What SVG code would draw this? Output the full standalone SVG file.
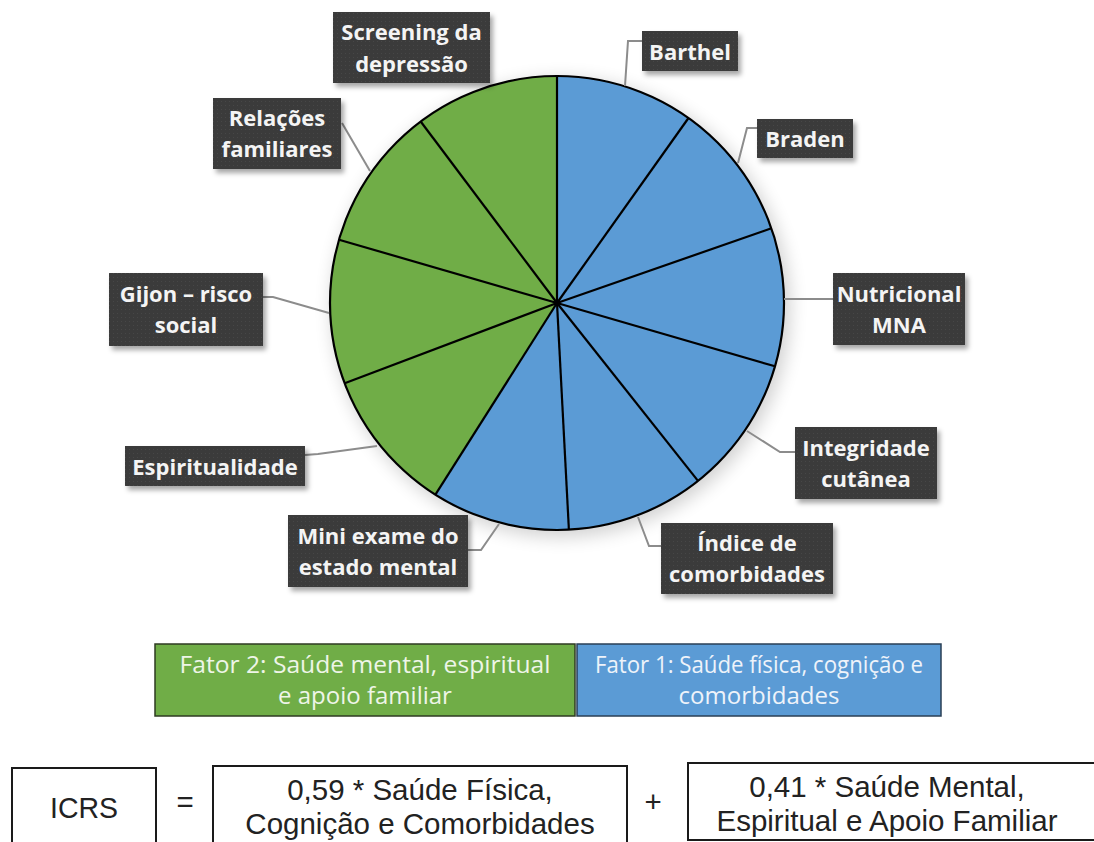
<svg xmlns="http://www.w3.org/2000/svg" width="1094" height="842" viewBox="0 0 1094 842">
<style>
.lbl rect{fill:url(#dots);filter:url(#sh)}
.lbl text{font-family:"Open Sans","DejaVu Sans",sans-serif;font-weight:bold;font-size:22px;fill:#f4f4f4;text-anchor:middle}
.lead{fill:none;stroke:#8c8c8c;stroke-width:2}
.rad{stroke:#000;stroke-width:2.2}
.fat{font-family:"Open Sans","DejaVu Sans",sans-serif;font-size:24px;text-anchor:middle}
.frm{font-family:"Liberation Sans",Arial,sans-serif;font-size:29.5px;fill:#222;text-anchor:middle}
.fbox{fill:#fff;stroke:#1a1a1a;stroke-width:2}
</style>
<defs>
<pattern id="dots" width="4" height="4" patternUnits="userSpaceOnUse">
<rect width="4" height="4" fill="#3a3a3a"/>
<rect x="1" y="1" width="1" height="1" fill="#464646"/>
</pattern>
<filter id="sh" x="-20%" y="-20%" width="150%" height="160%">
<feDropShadow dx="3" dy="4" stdDeviation="2.5" flood-color="#000" flood-opacity="0.35"/>
</filter>
<filter id="pieSh" x="-20%" y="-20%" width="140%" height="140%">
<feGaussianBlur stdDeviation="9"/>
</filter>
</defs>
<rect width="1094" height="842" fill="#fff"/>

<g id="pie">
<circle cx="561" cy="308" r="229" fill="#000" opacity="0.18" filter="url(#pieSh)"/>
<path d="M557,303 L557,76 A227,227 0 1 1 435.4,494.7 Z" fill="#5b9bd5"/>
<path d="M557,303 L435.4,494.7 A227,227 0 0 1 557,76 Z" fill="#70ad47"/>
<g class="rad">
<line x1="557" y1="303" x2="557" y2="76"/>
<line x1="557" y1="303" x2="688.5" y2="118"/>
<line x1="557" y1="303" x2="771.4" y2="228.3"/>
<line x1="557" y1="303" x2="775" y2="366.3"/>
<line x1="557" y1="303" x2="698" y2="480.9"/>
<line x1="557" y1="303" x2="568.9" y2="529.7"/>
<line x1="557" y1="303" x2="435.4" y2="494.7"/>
<line x1="557" y1="303" x2="344.7" y2="383.2"/>
<line x1="557" y1="303" x2="339" y2="239.7"/>
<line x1="557" y1="303" x2="420.7" y2="121.5"/>
</g>
<circle cx="557" cy="303" r="227" fill="none" stroke="#000" stroke-width="2.2"/>
<circle cx="557" cy="303" r="3" fill="#000"/>
</g>

<g id="connectors">
<polyline class="lead" points="642,41 628,41 625,86"/>
<polyline class="lead" points="757,128 747,128 738,163"/>
<polyline class="lead" points="784,299 833,299"/>
<polyline class="lead" points="747,431 780,452 795,452"/>
<polyline class="lead" points="638,517 649,546 661,546"/>
<polyline class="lead" points="468,550 481,550 499,524"/>
<polyline class="lead" points="305,455 318,454 377,446"/>
<polyline class="lead" points="263,297 273,297 329,313"/>
<polyline class="lead" points="342,123 370,171"/>
</g>

<g id="lbl-screening" class="lbl"><rect x="333" y="12" width="157" height="71"/><text x="411.5" y="40">Screening da</text><text x="411.5" y="72">depressão</text></g>
<g id="lbl-barthel" class="lbl"><rect x="642" y="31" width="96" height="40"/><text x="690" y="60">Barthel</text></g>
<g id="lbl-braden" class="lbl"><rect x="757" y="119" width="96" height="39"/><text x="805" y="147">Braden</text></g>
<g id="lbl-nutricional" class="lbl"><rect x="833" y="273" width="132" height="72"/><text x="899" y="302">Nutricional</text><text x="899" y="333">MNA</text></g>
<g id="lbl-integridade" class="lbl"><rect x="795" y="427" width="142" height="72"/><text x="866" y="456">Integridade</text><text x="866" y="487">cutânea</text></g>
<g id="lbl-indice" class="lbl"><rect x="661" y="523" width="172" height="71"/><text x="747" y="551">Índice de</text><text x="747" y="582">comorbidades</text></g>
<g id="lbl-mini" class="lbl"><rect x="288" y="515" width="180" height="72"/><text x="378" y="544">Mini exame do</text><text x="378" y="575">estado mental</text></g>
<g id="lbl-espiritualidade" class="lbl"><rect x="125" y="446" width="180" height="40"/><text x="215" y="475">Espiritualidade</text></g>
<g id="lbl-gijon" class="lbl"><rect x="109" y="273" width="154" height="73"/><text x="186" y="302">Gijon – risco</text><text x="186" y="333">social</text></g>
<g id="lbl-relacoes" class="lbl"><rect x="213" y="98" width="128" height="71"/><text x="277" y="126">Relações</text><text x="277" y="157">familiares</text></g>

<g id="fator2">
<rect x="155" y="644" width="420" height="72" fill="#70ad47" stroke="#2e3b22" stroke-width="1.5"/>
<text class="fat" x="365" y="673" fill="#eef5e8" textLength="371" lengthAdjust="spacingAndGlyphs">Fator 2: Saúde mental, espiritual</text>
<text class="fat" x="365" y="704" fill="#eef5e8">e apoio familiar</text>
</g>
<g id="fator1">
<rect x="577" y="644" width="364" height="72" fill="#5b9bd5" stroke="#2a3f55" stroke-width="1.5"/>
<text class="fat" x="759" y="673" fill="#eef3fa" textLength="328" lengthAdjust="spacingAndGlyphs">Fator 1: Saúde física, cognição e</text>
<text class="fat" x="759" y="704" fill="#eef3fa">comorbidades</text>
</g>

<g id="icrs">
<rect class="fbox" x="12" y="768" width="144" height="90"/>
<text class="frm" x="84" y="818" textLength="68" lengthAdjust="spacingAndGlyphs">ICRS</text>
</g>
<text id="eq" class="frm" x="185" y="812">=</text>
<g id="termo1">
<rect class="fbox" x="213" y="766" width="414" height="90"/>
<text class="frm" x="420" y="800">0,59 * Saúde Física,</text>
<text class="frm" x="420" y="834">Cognição e Comorbidades</text>
</g>
<text id="plus" class="frm" x="653" y="812">+</text>
<g id="termo2">
<rect class="fbox" x="688" y="763" width="420" height="77"/>
<text class="frm" x="887" y="797">0,41 * Saúde Mental,</text>
<text class="frm" x="887" y="831">Espiritual e Apoio Familiar</text>
</g>
</svg>
